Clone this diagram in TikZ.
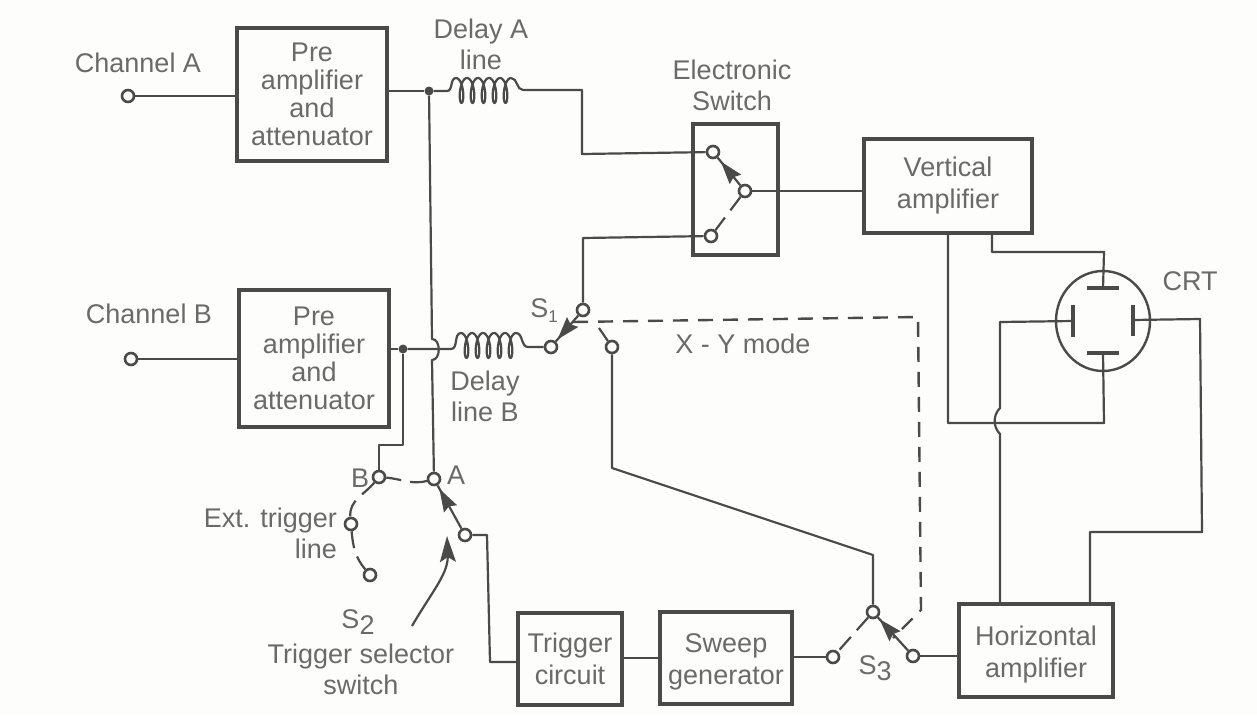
\documentclass[tikz,border=0pt]{standalone}
\usepackage{fontspec}
\setmainfont{Liberation Sans}
\usetikzlibrary{arrows.meta,decorations.markings,shapes.geometric}
\definecolor{ink}{HTML}{4A4A48}
\definecolor{txt}{HTML}{6A6A68}
\definecolor{paper}{HTML}{FDFDFB}
\newcommand{\drawcoil}[2]{\draw[wire] plot[smooth,domain=0:5,samples=150,variable=\t] ({#1+11*\t+4.2*sin(\t*360)},{#2-12.5*cos(\t*360)});}
\tikzset{
  x=1pt,y=-1pt,
  wire/.style={draw=ink,line width=2.2pt,line join=round},
  mech/.style={draw=ink,line width=2.4pt,dash pattern=on 15pt off 10pt},
  swdash/.style={draw=ink,line width=2.2pt,dash pattern=on 17pt off 9pt},
  blockbox/.style={draw=ink,line width=4pt,fill=none,inner sep=0pt,align=center,text=txt,
    font=\fontsize{27}{28}\selectfont},
  twobox/.style={blockbox,font=\fontsize{27}{32}\selectfont},
  lbl/.style={inner sep=0pt,align=center,text=txt,font=\fontsize{27}{31}\selectfont},
  term/.style={circle,draw=ink,line width=2.6pt,fill=paper,minimum size=12pt,inner sep=0pt},
  dotj/.style={circle,fill=ink,minimum size=9pt,inner sep=0pt},
  plate/.style={draw=ink,line width=4pt},
  blade/.style={wire,postaction={decorate},decoration={markings,mark=at position #1 with {\fill[ink] (11,0) -- (-12,-7.5) -- (-9,0) -- (-12,7.5) -- cycle;}}},
}
\begin{document}
\begin{tikzpicture}
\useasboundingbox[fill=paper] (0,0) rectangle (1257,715);
% blocks
\node[blockbox,minimum width=150pt,minimum height=133pt] (pa) at (312,94.5) {Pre\\amplifier\\and\\attenuator};
\node[blockbox,minimum width=150pt,minimum height=137pt] (pb) at (314,358.5) {Pre\\amplifier\\and\\attenuator};
\node[blockbox,minimum width=85pt,minimum height=131pt] (es) at (735.5,189.5) {};
\node[twobox,minimum width=168pt,minimum height=94pt] (va) at (948,186) {Vertical\\amplifier};
\node[twobox,minimum width=104pt,minimum height=92pt] (tc) at (570,659) {Trigger\\circuit};
\node[twobox,minimum width=132pt,minimum height=92pt] (sg) at (726,658) {\rule{0pt}{27pt}Sweep\\generator};
\node[twobox,minimum width=154pt,minimum height=93pt] (ha) at (1036,650.5) {\rule{0pt}{27pt}Horizontal\\amplifier};
% coordinates
\coordinate (ja) at (429,91);
\coordinate (ca0) at (447,91);
\coordinate (ca1) at (456,78);
\coordinate (ca2) at (511,78);
\coordinate (ca3) at (523,90);
\coordinate (cb0) at (451,349);
\coordinate (cb1) at (461,333);
\coordinate (cb2) at (516,333);
\coordinate (cb3) at (528,347);
\coordinate (w1) at (582,90);
\coordinate (w1b) at (582,154);
\coordinate (w2) at (583,238);
\coordinate (hopa) at (432,339);
\coordinate (hopb) at (432,360);
\coordinate (k1) at (403,445);
\coordinate (k2) at (379,445);
\coordinate (t1) at (487,535);
\coordinate (t2) at (490,662);
\coordinate (m1) at (612,468);
\coordinate (m2) at (873,555);
\coordinate (v1) at (992,252);
\coordinate (v2) at (1104,252);
\coordinate (b1) at (1104,423);
\coordinate (b2) at (948,423);
\coordinate (l1) at (1000,322);
\coordinate (l2) at (1000,408);
\coordinate (l3) at (1000,434);
\coordinate (r1) at (1200,319);
\coordinate (r2) at (1202,532);
\coordinate (r3) at (1090,532);
\coordinate (d0) at (573,322);
\coordinate (d1) at (918,317);
\coordinate (d2) at (921,610);
\coordinate (d3) at (893,638);
\coordinate (s1d) at (599,328);
\coordinate (ar1) at (412,626);
\coordinate (ar2) at (447,536);
% CRT
\node[ellipse,draw=ink,line width=2.4pt,minimum width=94pt,minimum height=100pt,inner sep=0pt] (crt) at (1103,321) {};
\coordinate (ptc) at (1103,288);
\coordinate (pbc) at (1103,353);
\coordinate (plc) at (1073,321);
\coordinate (prc) at (1133,320);
\draw[plate] (1087,288) -- (1119,288);
\draw[plate] (1087,353) -- (1119,353);
\draw[plate] (1073,305) -- (1073,337);
\draw[plate] (1133,305) -- (1133,336);
% terminals
\node[term] (cha) at (128,96) {};
\node[term] (chb) at (131,359) {};
\node[term] (e1) at (713,152) {};
\node[term] (e2) at (745,191) {};
\node[term] (e3) at (711,236) {};
\node[term] (s1t) at (583,310) {};
\node[term] (s1l) at (551,347) {};
\node[term] (s1r) at (612,347) {};
\node[term] (ta) at (434,479) {};
\node[term] (tb) at (379,477) {};
\node[term] (tx) at (351,524) {};
\node[term] (tl) at (370,575) {};
\node[term] (tp) at (465,535) {};
\node[term] (s3t) at (873,612) {};
\node[term] (s3l) at (833,657) {};
\node[term] (s3r) at (913,656) {};
\node[dotj] (jad) at (ja) {};
\node[dotj] (jbd) at (403,349) {};
% wires
\draw[wire] (cha) -- (pa.west |- cha);
\draw[wire] (pa.east |- ja) -- (jad);
\draw[wire] (jad) -- (ca0) to[out=0,in=180] (ca1);
\drawcoil{456}{90.5}
\draw[wire] (ca2) to[out=0,in=180] (ca3) -- (w1) -- (w1b) -- (e1);
\draw[wire] (e2) -- (va.west |- e2);
\draw[wire] (chb) -- (pb.west |- chb);
\draw[wire] (pb.east |- jbd) -- (jbd);
\draw[wire] (jbd) -- (cb0) to[out=0,in=180] (cb1);
\drawcoil{461}{345.5}
\draw[wire] (cb2) to[out=0,in=180] (cb3) -- (s1l);
\draw[wire] (s1t) -- (w2) -- (e3);
\draw[wire] (jad) -- (hopa) to[out=0,in=0,looseness=1.1] (hopb) -- (ta);
\draw[wire] (jbd) -- (k1) -- (k2) -- (tb);
\draw[wire] (tp) -- (t1) -- (t2) -- (tc.west |- t2);
\draw[wire] (tc.east |- sg) -- (sg.west);
\draw[wire] (sg.east |- s3l) -- (s3l);
\draw[wire] (s3r) -- (ha.west |- s3r);
\draw[wire] (s1r) -- (m1) -- (m2) -- (s3t);
\draw[wire] (va.south -| v1) -- (v1) -- (v2) -- (ptc);
\draw[wire] (pbc) -- (b1) -- (b2) -- (va.south -| b2);
\draw[wire] (plc) -- (l1) -- (l2) to[out=225,in=135,looseness=1] (l3) -- (ha.north -| l3);
\draw[wire] (prc) -- (r1) -- (r2) -- (r3) -- (ha.north -| r3);
% switch blades
\draw[blade=0.55] (e2) -- (e1);
\draw[swdash] (e2) -- (e3);
\draw[blade=0.6] (s1t) -- (s1l);
\draw[swdash] (s1d) -- (s1r);
\draw[blade=0.7] (tp) -- (ta);
\draw[blade=0.7] (s3r) -- (s3t);
\draw[swdash] (s3t) -- (s3l);
\draw[swdash] (ta) to[out=195,in=-5] (tb);
\draw[swdash] (tb) to[out=230,in=95] (tx);
\draw[swdash] (tx) to[out=-85,in=130] (tl);
\draw[mech] (d0) -- (d1) -- (d2) -- (d3);
\draw[wire,-{Stealth[length=26pt,width=16pt,inset=5pt]}] (ar1) to[out=60,in=-88] (ar2);
% labels
\node[lbl] (n1) at (138,63) {Channel A};
\node[lbl] (n2) at (149,314) {Channel B};
\node[lbl] (n3) at (481,44.5) {Delay A\\line};
\node[lbl] (n4) at (732,85) {Electronic\\Switch};
\node[lbl] (n5) at (1190,281) {CRT};
\node[lbl] (n6) at (544,311) {S\raisebox{-5pt}{\fontsize{17}{17}\selectfont 1}};
\node[lbl] (n7) at (743,344) {X - Y mode};
\node[lbl] (n8) at (485,396.5) {Delay\\line B};
\node[lbl] (n9) at (360,478) {B};
\node[lbl] (n10) at (456,475) {A};
\node[lbl,anchor=north east] (n11) at (337,508) {Ext. trigger};
\node[lbl,anchor=north east] (n12) at (337,539) {line};
\node[lbl] (n13) at (358,622) {S\raisebox{-6pt}{2}};
\node[lbl] (n14) at (361,669) {Trigger selector\\switch};
\node[lbl] (n15) at (875,668) {S\raisebox{-6pt}{3}};
\end{tikzpicture}
\end{document}
